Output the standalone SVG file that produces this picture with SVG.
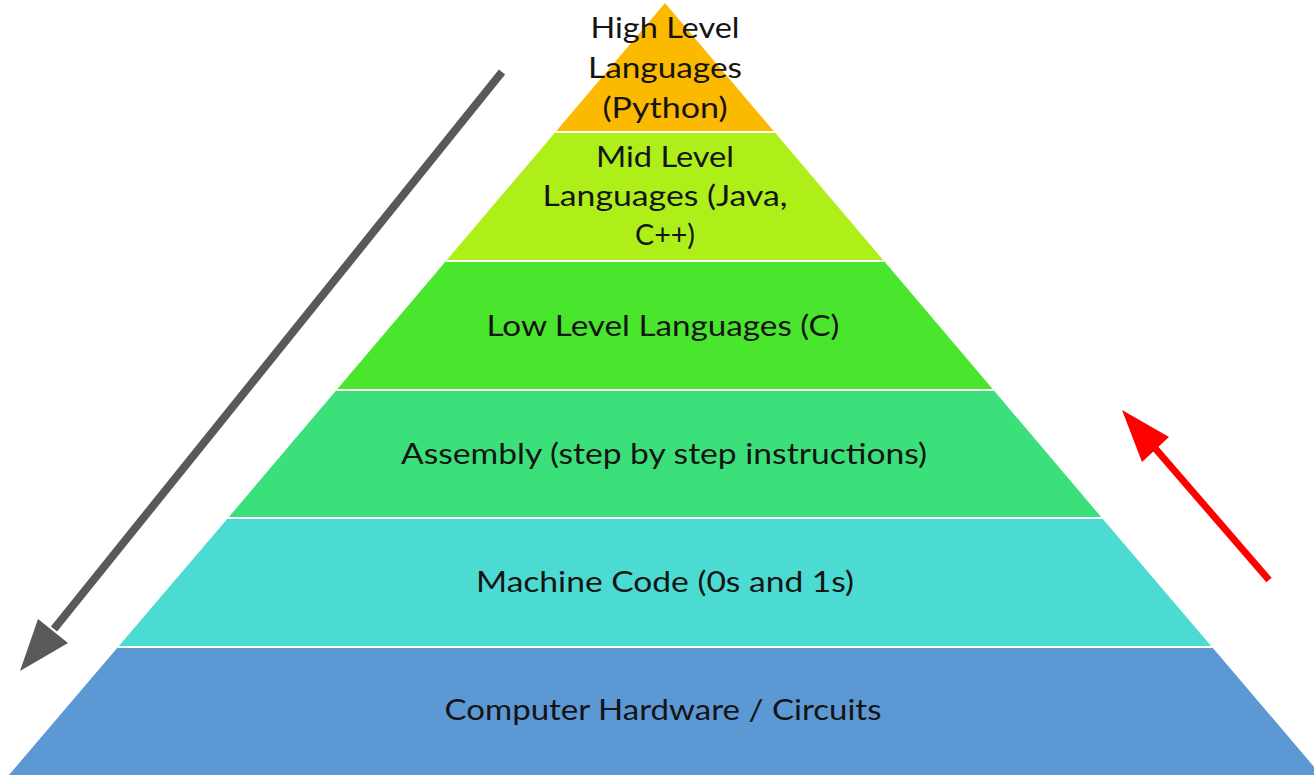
<svg xmlns="http://www.w3.org/2000/svg" width="1314" height="775" viewBox="0 0 1314 775">
<style>
.t{font-family:Lato,"Open Sans","Noto Sans",sans-serif;font-size:29px;fill:#141414;text-anchor:middle}
.sep{stroke:#ffffff;stroke-width:2}
</style>
<rect width="1314" height="775" fill="#ffffff"/>
<g id="layer-high">
<polygon points="665,3 774.5,132 555.5,132" fill="#fbb900"/>
<text class="t" x="665" y="38" textLength="149" lengthAdjust="spacingAndGlyphs">High Level</text>
<text class="t" x="665" y="78" textLength="154" lengthAdjust="spacingAndGlyphs">Languages</text>
<text class="t" x="665" y="118" textLength="125" lengthAdjust="spacingAndGlyphs">(Python)</text>
</g>
<g id="layer-mid">
<polygon points="555.5,132 774.5,132 884,261 446,261" fill="#aeef1a"/>
<text class="t" x="665" y="167" textLength="138" lengthAdjust="spacingAndGlyphs">Mid Level</text>
<text class="t" x="665" y="206" textLength="245" lengthAdjust="spacingAndGlyphs">Languages (Java,</text>
<text class="t" x="665" y="245" textLength="60" lengthAdjust="spacingAndGlyphs">C++)</text>
</g>
<g id="layer-low">
<polygon points="446,261 884,261 993.5,390 336.5,390" fill="#4ae62e"/>
<text class="t" x="663" y="336" textLength="353" lengthAdjust="spacingAndGlyphs">Low Level Languages (C)</text>
</g>
<g id="layer-assembly">
<polygon points="336.5,390 993.5,390 1102,518 228,518" fill="#3ce07a"/>
<text class="t" x="664" y="464" textLength="526" lengthAdjust="spacingAndGlyphs">Assembly (step by step instructions)</text>
</g>
<g id="layer-machine">
<polygon points="228,518 1102,518 1212,647 118,647" fill="#4cdbd2"/>
<text class="t" x="665" y="592" textLength="378" lengthAdjust="spacingAndGlyphs">Machine Code (0s and 1s)</text>
</g>
<g id="layer-hardware">
<polygon points="118,647 1212,647 1321,775 9,775" fill="#5b98d4"/>
<text class="t" x="663" y="720" textLength="437" lengthAdjust="spacingAndGlyphs">Computer Hardware / Circuits</text>
</g>
<g id="separators">
<line class="sep" x1="555.5" y1="132" x2="774.5" y2="132"/>
<line class="sep" x1="446" y1="261" x2="884" y2="261"/>
<line class="sep" x1="336.5" y1="390" x2="993.5" y2="390"/>
<line class="sep" x1="228" y1="518" x2="1102" y2="518"/>
<line class="sep" x1="118" y1="647" x2="1212" y2="647"/>
</g>
<g id="connectors">
<line x1="502" y1="72" x2="54" y2="629" stroke="#595959" stroke-width="8"/>
<polygon points="20,671 38,619 68,643" fill="#595959"/>
<line x1="1269" y1="580" x2="1154" y2="447" stroke="#ff0000" stroke-width="7"/>
<polygon points="1122,410 1142,462 1169,437" fill="#ff0000"/>
</g>
</svg>
